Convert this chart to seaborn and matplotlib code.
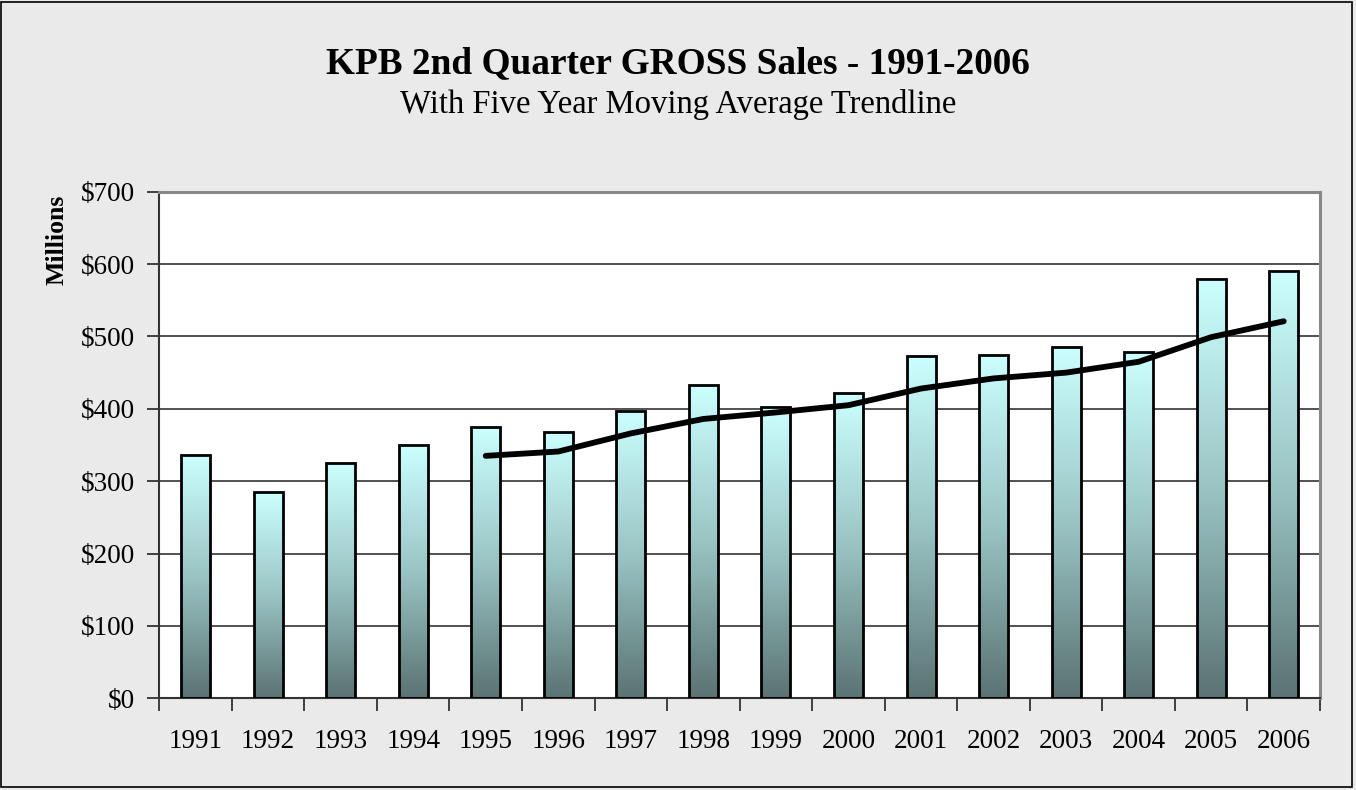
import numpy as np
import pandas as pd
import matplotlib
matplotlib.use("Agg")
import matplotlib.pyplot as plt
import seaborn as sns
from matplotlib.colors import LinearSegmentedColormap
from matplotlib.patches import Rectangle
from matplotlib.ticker import FuncFormatter

# ---- data ----
years = ["1991", "1992", "1993", "1994", "1995", "1996", "1997", "1998",
         "1999", "2000", "2001", "2002", "2003", "2004", "2005", "2006"]
sales = [336, 285, 325, 350, 375, 368, 397, 433, 402, 422, 473, 474, 485, 478, 579, 591]
ma_years = ["1995", "1996", "1997", "1998", "1999", "2000", "2001", "2002",
            "2003", "2004", "2005", "2006"]
moving_avg = [335, 341, 366, 386, 395, 405, 428, 442, 450, 465, 499, 521]
y_ticks = [0, 100, 200, 300, 400, 500, 600, 700]

title = "KPB 2nd Quarter GROSS Sales - 1991-2006"
subtitle = "With Five Year Moving Average Trendline"
ylabel = "Millions"

sns.set_theme(style="white")
plt.rcParams['font.family'] = ['Liberation Serif', 'DejaVu Serif']
plt.rcParams['text.color'] = 'black'
plt.rcParams['axes.labelcolor'] = 'black'
plt.rcParams['xtick.color'] = 'black'
plt.rcParams['ytick.color'] = 'black'

W, H = 1356, 790
fig = plt.figure(figsize=(W / 100, H / 100), dpi=100, facecolor='#EAEAEA')
left, right, top, bottom = 159.3, 1320.0, 191.7, 698.3
ax = fig.add_axes([left / W, 1 - bottom / H, (right - left) / W, (bottom - top) / H])
ax.set_facecolor('white')

df = pd.DataFrame({"year": years, "sales": sales})
sns.barplot(data=df, x="year", y="sales", ax=ax, width=0.40, color="#CCFFFF",
            saturation=1, edgecolor="black", linewidth=2.0, zorder=3)

cmap = LinearSegmentedColormap.from_list("bargrad", ["#5B7373", "#9AC4C4", "#CCFFFF"])
grad = np.linspace(1, 0, 256).reshape(-1, 1)
for p in ax.patches:
    x0, w, h = p.get_x(), p.get_width(), p.get_height()
    p.set_facecolor('none')
    ax.imshow(grad, extent=[x0, x0 + w, 0, h], origin='upper', aspect='auto',
              cmap=cmap, vmin=0, vmax=1, zorder=2.5, interpolation='bilinear')

ma_df = pd.DataFrame({"pos": [years.index(y) for y in ma_years], "avg": moving_avg})
sns.lineplot(data=ma_df, x="pos", y="avg", ax=ax, color="black", linewidth=4.2,
             zorder=5, solid_capstyle='round', solid_joinstyle='round')

ax.set_xlim(-0.5, len(years) - 0.5)
ax.set_ylim(0, 700)
ax.set_yticks(y_ticks)
ax.yaxis.set_major_formatter(FuncFormatter(lambda v, _: f"${int(v)}"))
ax.yaxis.grid(True, color='#222222', linewidth=1.1)
ax.xaxis.grid(False)
ax.set_axisbelow(True)
ax.set_xlabel("")
ax.set_ylabel("")

ax.set_xticks(range(len(years)))
ax.set_xticklabels(years)
ax.set_xticks(np.arange(-0.5, len(years), 1.0), minor=True)
ax.tick_params(axis='x', which='major', length=0, pad=22, labelsize=19.5, labelcolor='black')
ax.tick_params(axis='x', which='minor', length=9, width=1.2, direction='out', color='#222222', bottom=True)
ax.tick_params(axis='y', which='major', length=8.5, width=1.2, direction='out', pad=9,
               labelsize=19.5, color='#222222', labelcolor='black', left=True)

for s in ['left', 'bottom']:
    ax.spines[s].set_color('#333333')
    ax.spines[s].set_linewidth(1.5)
for s in ['top', 'right']:
    ax.spines[s].set_color('#888888')
    ax.spines[s].set_linewidth(2.2)
    ax.spines[s].set_visible(True)

fig.text(0.5, 1 - 73 / H, title, ha='center', va='baseline', fontsize=26.8,
         fontweight='bold', color='black')
fig.text(0.5, 1 - 113 / H, subtitle, ha='center', va='baseline', fontsize=23.5, color='black')
fig.text(57 / W, 1 - 240 / H, ylabel, ha='center', va='center', rotation=90,
         fontsize=18.5, fontweight='bold', color='black')

fig.patches.append(Rectangle((1 / W, 3 / H), 1351 / W, 785 / H, transform=fig.transFigure,
                             fill=False, edgecolor='black', linewidth=1.2))

fig.savefig("out.png", dpi=100, facecolor=fig.get_facecolor())
